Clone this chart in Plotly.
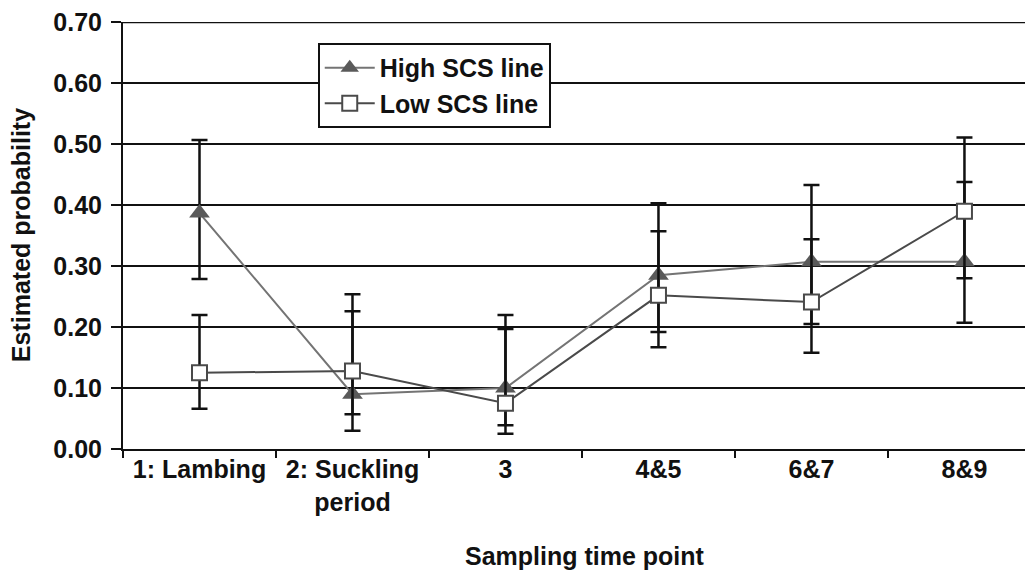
import plotly.graph_objects as go

# Datos
puntos = ["1: Lambing", "2: Suckling<br>period", "3", "4&5", "6&7", "8&9"]

alto = [0.387, 0.090, 0.100, 0.285, 0.307, 0.307]
alto_sup = [0.507, 0.226, 0.220, 0.403, 0.433, 0.438]
alto_inf = [0.279, 0.030, 0.039, 0.192, 0.205, 0.207]

bajo = [0.125, 0.128, 0.075, 0.252, 0.241, 0.390]
bajo_sup = [0.220, 0.254, 0.197, 0.357, 0.344, 0.511]
bajo_inf = [0.066, 0.057, 0.025, 0.167, 0.158, 0.280]

y_ticks = [0.0, 0.1, 0.2, 0.3, 0.4, 0.5, 0.6, 0.7]

FONT = "Liberation Sans, Arial, sans-serif"
NEGRO = "#111111"
TAM = 25


def barras_error(valores, sup, inf):
    return dict(
        type="data", symmetric=False,
        array=[s - v for s, v in zip(sup, valores)],
        arrayminus=[v - i for v, i in zip(valores, inf)],
        color=NEGRO, thickness=2.5, width=8,
    )


fig = go.Figure()

fig.add_trace(go.Scatter(
    x=puntos, y=alto,
    name="High SCS line",
    mode="lines+markers",
    line=dict(color="#747474", width=2),
    marker=dict(symbol="triangle-up", size=18, color="#5a5a5a",
                line=dict(color="#5a5a5a", width=0)),
    error_y=barras_error(alto, alto_sup, alto_inf),
))

fig.add_trace(go.Scatter(
    x=puntos, y=bajo,
    name="Low SCS line",
    mode="lines+markers",
    line=dict(color="#4a4a4a", width=2),
    marker=dict(symbol="square", size=15, color="white",
                line=dict(color="#4a4a4a", width=2)),
    error_y=barras_error(bajo, bajo_sup, bajo_inf),
))

# Línea superior de la rejilla (plotly la omite en el borde)
fig.add_shape(
    type="line", xref="paper", yref="y",
    x0=0, x1=1, y0=y_ticks[-1], y1=y_ticks[-1],
    line=dict(color=NEGRO, width=2), layer="below",
)

# Títulos de ejes como anotaciones
fig.add_annotation(
    text="Estimated probability", textangle=-90,
    xref="paper", yref="paper", x=-0.1125, y=0.5,
    xanchor="center", yanchor="middle", showarrow=False,
    font=dict(family=FONT, size=TAM, color=NEGRO, weight="bold"),
)
fig.add_annotation(
    text="Sampling time point",
    xref="paper", yref="paper", x=0.5077, y=-0.2506,
    xanchor="center", yanchor="middle", showarrow=False,
    font=dict(family=FONT, size=TAM, color=NEGRO, weight="bold"),
)

fig.update_layout(
    width=1025, height=564,
    margin=dict(l=115, r=0, t=14, b=123),
    paper_bgcolor="white",
    plot_bgcolor="white",
    font=dict(family=FONT, size=TAM, color=NEGRO, weight="bold"),
    xaxis=dict(
        type="category", range=[-0.5, 5.448],
        tickson="boundaries", ticks="outside", ticklen=7, tickwidth=2,
        tickcolor=NEGRO, showline=True, linecolor=NEGRO, linewidth=2,
        ticklabelstandoff=-3,
        showgrid=False, zeroline=False,
        tickfont=dict(family=FONT, size=TAM, color=NEGRO, weight="bold"),
    ),
    yaxis=dict(
        range=[0, 0.7004], tickvals=y_ticks, tickformat=".2f",
        ticks="outside", ticklen=10, tickwidth=2, tickcolor=NEGRO,
        ticklabelstandoff=4, ticklabeloverflow="allow",
        showline=True, linecolor=NEGRO, linewidth=2,
        showgrid=True, gridcolor=NEGRO, gridwidth=2, zeroline=False,
        tickfont=dict(family=FONT, size=TAM, color=NEGRO, weight="bold"),
    ),
    legend=dict(
        x=0.214, y=0.951, xanchor="left", yanchor="top",
        bgcolor="white", bordercolor=NEGRO, borderwidth=2,
        font=dict(family=FONT, size=TAM, color=NEGRO, weight="bold"),
        itemwidth=50,
    ),
    showlegend=True,
)

fig.write_html("out.html")
